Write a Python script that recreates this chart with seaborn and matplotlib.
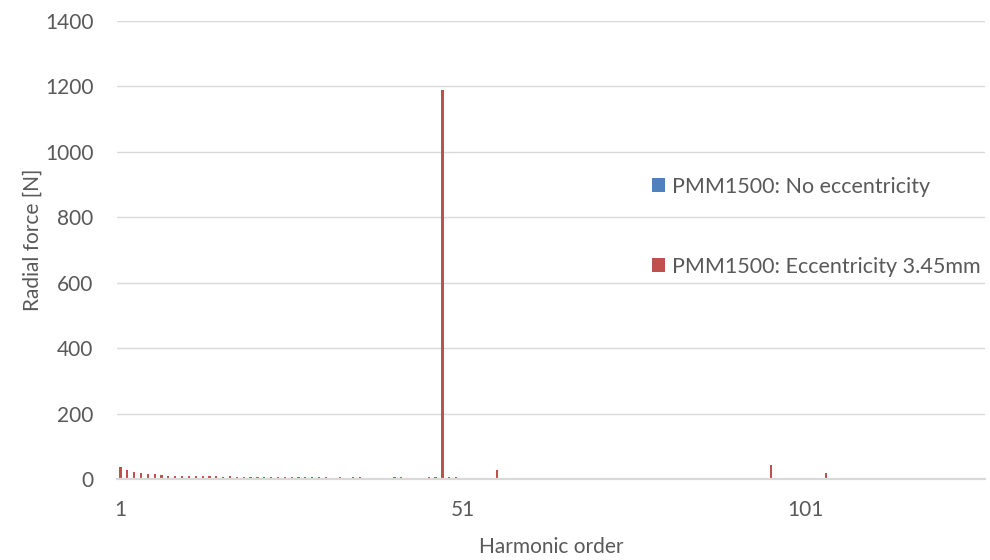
import matplotlib
matplotlib.use("Agg")
import numpy as np
import pandas as pd
import seaborn as sns
import matplotlib.pyplot as plt
from matplotlib.patches import Patch

# ---------------- data ----------------
harmonic_order = list(range(1, 128))

no_eccentricity = [
    0, 0, 0, 0, 0, 0, 0, 0, 0, 0,
    0, 0, 0, 0, 0, 0, 0, 0, 0, 0,
    0, 0, 0, 0, 0, 0, 0, 0, 0, 0,
    0, 0, 0, 0, 0, 0, 0, 0, 0, 0,
    0, 0, 0, 0, 0, 0, 0, 0, 0, 0,
    0, 0, 0, 0, 0, 0, 0, 0, 0, 0,
    0, 0, 0, 0, 0, 0, 0, 0, 0, 0,
    0, 0, 0, 0, 0, 0, 0, 0, 0, 0,
    0, 0, 0, 0, 0, 0, 0, 0, 0, 0,
    0, 0, 0, 0, 0, 0, 0, 0, 0, 0,
    0, 0, 0, 0, 0, 0, 0, 0, 0, 0,
    0, 0, 0, 0, 0, 0, 0, 0, 0, 0,
    0, 0, 0, 0, 0, 0, 0,
]

eccentricity_345 = [
    36, 27, 21, 18, 15, 14, 12, 9, 9, 9,        # 1-10
    9, 9, 8, 8, 8, 6, 8, 6, 6, 6,               # 11-20
    6, 7, 5, 6, 5, 6, 5, 6, 5, 5,               # 21-30
    5, 4, 5, 4, 5, 5, 4, 4, 4, 0,               # 31-40
    5, 5, 0, 0, 0, 5, 5, 1188, 5, 5,            # 41-50
    0, 0, 0, 0, 0, 29, 0, 0, 0, 0,              # 51-60
    0, 0, 0, 0, 0, 0, 0, 0, 0, 0,               # 61-70
    0, 0, 0, 0, 0, 0, 0, 0, 0, 0,               # 71-80
    0, 0, 0, 0, 0, 0, 0, 0, 0, 0,               # 81-90
    0, 0, 0, 0, 0, 42, 0, 0, 0, 0,              # 91-100
    0, 0, 0, 19, 0, 0, 0, 0, 0, 0,              # 101-110
    0, 0, 0, 0, 0, 0, 0, 0, 0, 0,               # 111-120
    0, 0, 0, 0, 0, 0, 0,                        # 121-127
]

series_names = ["PMM1500: No eccentricity", "PMM1500: Eccentricity 3.45mm"]
series_colors = ["#4F81BD", "#C0504D"]
x_tick_labels = [1, 51, 101]
y_ticks = [0, 200, 400, 600, 800, 1000, 1200, 1400]

df = pd.DataFrame({
    "Harmonic order": harmonic_order * 2,
    "Radial force [N]": no_eccentricity + eccentricity_345,
    "series": [series_names[0]] * len(harmonic_order) + [series_names[1]] * len(harmonic_order),
})

# ---------------- style ----------------
sns.set_theme(style="white")
plt.rcParams["font.family"] = ["Lato", "DejaVu Sans"]
text_color = "#595959"
grid_color = "#D9D9D9"

fig = plt.figure(figsize=(9.9, 5.6), dpi=100)
W, H = 990, 560
left, right, top, bottom = 117, 985, 21, 479
ax = fig.add_axes([left / W, 1 - bottom / H, (right - left) / W, (bottom - top) / H])

sns.barplot(
    data=df, x="Harmonic order", y="Radial force [N]", hue="series",
    hue_order=series_names, palette=dict(zip(series_names, series_colors)),
    native_scale=True, dodge=False, width=0.32, linewidth=0, saturation=1,
    legend=False, ax=ax, errorbar=None,
)

ax.set_xlim(0.5, 127.2)
ax.set_ylim(0, 1400)
ax.set_yticks(y_ticks)
ax.set_xticks(x_tick_labels)
ax.set_xticklabels([str(v) for v in x_tick_labels])
ax.set_axisbelow(True)
ax.yaxis.grid(True, color=grid_color, linewidth=1.0)
ax.xaxis.grid(False)
for s in ["left", "right", "top"]:
    ax.spines[s].set_visible(False)
ax.spines["bottom"].set_color(grid_color)
ax.spines["bottom"].set_linewidth(1.6)
ax.tick_params(axis="both", length=0, labelsize=15, colors=text_color)
ax.tick_params(axis="y", pad=17)
ax.tick_params(axis="x", pad=15)
ax.set_xlabel("")
ax.set_ylabel("")

fig.text(33 / W, 1 - 240 / H, "Radial force [N]", rotation=90, ha="center", va="center",
         fontsize=15, color=text_color)
fig.text(551 / W, 1 - 547 / H, "Harmonic order", ha="center", va="center",
         fontsize=15, color=text_color)

handles = [Patch(facecolor=c, edgecolor="none") for c in series_colors]
leg = ax.legend(
    handles, series_names, loc="upper left",
    bbox_to_anchor=(652 / W, 1 - 177 / H), bbox_transform=fig.transFigure,
    frameon=False, fontsize=15.5, handlelength=0.62, handleheight=0.62,
    handletextpad=0.33, labelspacing=2.78, borderpad=0, borderaxespad=0,
)
for t in leg.get_texts():
    t.set_color(text_color)

fig.savefig("out.png", dpi=100)
